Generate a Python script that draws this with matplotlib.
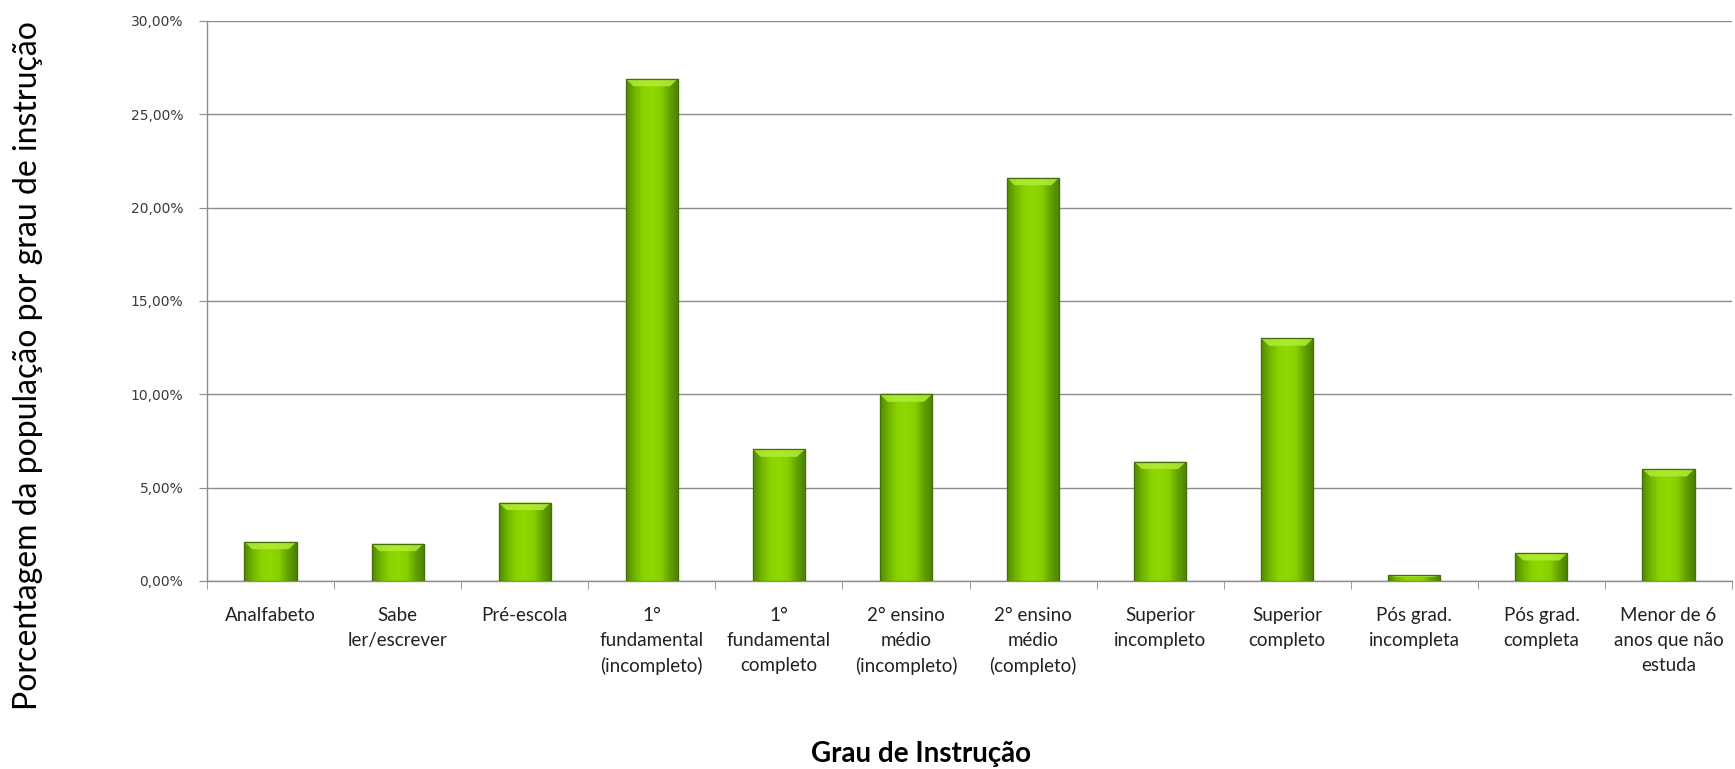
import numpy as np, matplotlib
matplotlib.use("Agg")
import matplotlib.pyplot as plt
from matplotlib.colors import LinearSegmentedColormap
from matplotlib.ticker import FuncFormatter, FixedLocator

categorias = ["Analfabeto", "Sabe\nler/escrever", "Pré-escola", "1°\nfundamental\n(incompleto)",
              "1°\nfundamental\ncompleto", "2° ensino\nmédio\n(incompleto)", "2° ensino\nmédio\n(completo)",
              "Superior\nincompleto", "Superior\ncompleto", "Pós grad.\nincompleta", "Pós grad.\ncompleta",
              "Menor de 6\nanos que não\nestuda"]
valores = [2.1, 2.0, 4.2, 26.9, 7.05, 10.0, 21.6, 6.4, 13.0, 0.3, 1.5, 6.0]
yticks = [0, 5, 10, 15, 20, 25, 30]

plt.rcParams["font.family"] = ["Lato", "DejaVu Sans"]
fig = plt.figure(figsize=(17.35, 7.69), dpi=100)
ax = fig.add_axes([0.1193, 0.2445, 0.879, 0.7282])

x = np.arange(len(categorias))
w = 0.41
bars = ax.bar(x, valores, width=w, color="#7cc400", edgecolor="#4a7a05", linewidth=0.8, zorder=3)
# horizontal gradient inside each bar (Excel bevel look)
cmap = LinearSegmentedColormap.from_list("g", ["#4f8a02", "#72b600", "#8ad300", "#90d800", "#86cf00", "#62a000", "#4a8000"])
grad = np.linspace(0, 1, 256).reshape(1, -1)
for b, v in zip(bars, valores):
    x0 = b.get_x()
    im = ax.imshow(grad, cmap=cmap, aspect="auto", extent=[x0, x0 + w, 0, v], zorder=3.5)
    im.set_clip_path(b)
    cap = min(0.4, v * 0.3)
    ax.fill([x0, x0 + w, x0 + w * 0.85, x0 + w * 0.15], [v, v, v - cap, v - cap],
            color="#b2ec34", alpha=0.85, zorder=4, lw=0)
    ax.bar(x0 + w / 2, v, width=w, fill=False, edgecolor="#456f08", linewidth=0.9, zorder=5)

ax.set_xlim(-0.5, len(categorias) - 0.5)
ax.set_ylim(0, 30)
ax.set_yticks(yticks)
ax.yaxis.set_major_formatter(FuncFormatter(lambda v, p: f"{v:.2f}%".replace(".", ",")))
ax.grid(axis="y", color="#8c8c8c", linewidth=1.0, zorder=0)
ax.set_axisbelow(True)
for s in ["top", "right"]:
    ax.spines[s].set_visible(False)
for s in ["left", "bottom"]:
    ax.spines[s].set_color("#8c8c8c")
    ax.spines[s].set_linewidth(1.0)
ax.tick_params(axis="y", length=6, color="#8c8c8c", labelsize=10, labelcolor="#3a3a3a", pad=11)
for t in ax.get_yticklabels():
    t.set_family("DejaVu Sans")
ax.set_xticks(x)
ax.set_xticklabels(categorias, fontsize=13.5, linespacing=1.55, va="top")
ax.tick_params(axis="x", which="major", length=0, pad=19, labelcolor="#222222")
ax.xaxis.set_minor_locator(FixedLocator(np.arange(-0.5, len(categorias), 1.0)))
ax.tick_params(axis="x", which="minor", length=6, color="#8c8c8c")

fig.text(0.531, 0.019, "Grau de Instrução", ha="center", va="center", fontsize=20, fontweight="bold")
fig.text(0.016, 0.525, "Porcentagem da população por grau de instrução", ha="center", va="center",
         rotation=90, fontsize=23)
fig.savefig("out.png", dpi=100)
